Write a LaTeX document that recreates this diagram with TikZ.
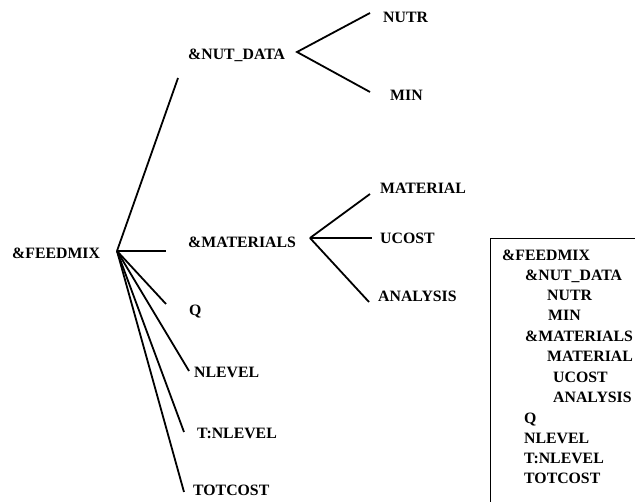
\documentclass[tikz,border=0pt]{standalone}
\usepackage{fontspec}
\setmainfont{Liberation Serif}
\begin{document}
\begin{tikzpicture}[x=1pt,y=-1pt,
  lbl/.style={anchor=base west,inner sep=0pt,font=\fontsize{15.8}{19}\selectfont\bfseries},
  conn/.style={line width=1.8pt},
  frame/.style={line width=0.9pt}]
\useasboundingbox (0,0) rectangle (635,502);
% tree labels (base y = centre + 5.3)
\node[lbl] (feedmix) at (12,258.3) {\&FEEDMIX};
\node[lbl] (nutdata) at (188,59.3) {\&NUT\_DATA};
\node[lbl] (nutr) at (383,22.3) {NUTR};
\node[lbl] (min) at (390,100.3) {MIN};
\node[lbl] (materials) at (188,247.3) {\&MATERIALS};
\node[lbl] (material) at (380,193.3) {MATERIAL};
\node[lbl] (ucost) at (380,243.3) {UCOST};
\node[lbl] (analysis) at (378,301.3) {ANALYSIS};
\node[lbl] (q) at (189,315.3) {Q};
\node[lbl] (nlevel) at (194,377.3) {NLEVEL};
\node[lbl] (tnlevel) at (197,438.3) {T:NLEVEL};
\node[lbl] (totcost) at (193,495.3) {TOTCOST};
% connector points
\coordinate (fm) at (117,251);
\coordinate (fm1) at (178,78);
\coordinate (fm2) at (166,251);
\coordinate (fm3) at (166,304);
\coordinate (fm4) at (189,371);
\coordinate (fm5) at (184,432);
\coordinate (fm6) at (184,492);
\coordinate (nd) at (297,52);
\coordinate (nd1) at (370,13);
\coordinate (nd2) at (370,92);
\coordinate (ma) at (310,238);
\coordinate (ma1) at (370,194);
\coordinate (ma2) at (372,238);
\coordinate (ma3) at (369,302);
\foreach \e in {fm1,fm2,fm3,fm4,fm5,fm6} \draw[conn] (fm) -- (\e);
\draw[conn] (nd1) -- (nd) -- (nd2);
\foreach \e in {ma1,ma2,ma3} \draw[conn] (ma) -- (\e);
% outline box
\draw[frame] (490,515) -- (490,238) -- (650,238);
\node[lbl] (b1) at (502,260.3) {\&FEEDMIX};
\node[lbl] (b2) at (525,280.3) {\&NUT\_DATA};
\node[lbl] (b3) at (547,300.3) {NUTR};
\node[lbl] (b4) at (548,320.3) {MIN};
\node[lbl] (b5) at (525,341.3) {\&MATERIALS};
\node[lbl] (b6) at (547,361.3) {MATERIAL};
\node[lbl] (b7) at (553,382.3) {UCOST};
\node[lbl] (b8) at (553,402.3) {ANALYSIS};
\node[lbl] (b9) at (524,423.3) {Q};
\node[lbl] (b10) at (524,443.3) {NLEVEL};
\node[lbl] (b11) at (524,463.3) {T:NLEVEL};
\node[lbl] (b12) at (524,483.3) {TOTCOST};
\end{tikzpicture}
\end{document}
